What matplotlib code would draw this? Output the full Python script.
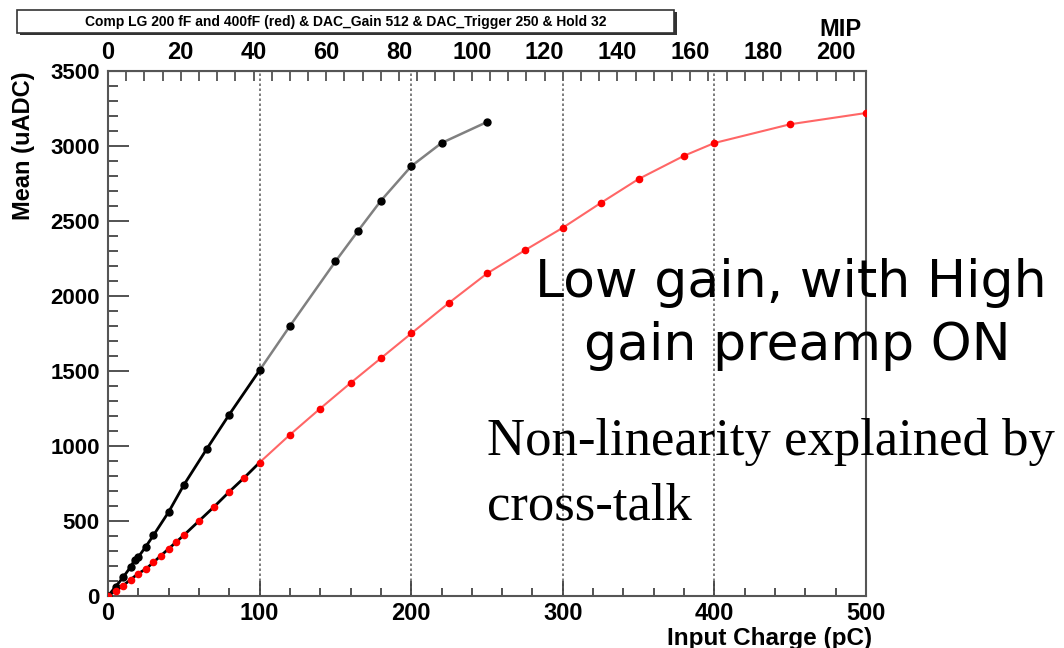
import numpy as np
import matplotlib
matplotlib.use("Agg")
import matplotlib.pyplot as plt
from matplotlib.patches import Rectangle
from matplotlib.ticker import MultipleLocator
from matplotlib.font_manager import FontProperties

# black: 200 fF, red: 400 fF
black_q = [0, 5, 10, 15, 17.5, 20, 25, 30, 40, 50, 65, 80, 100, 120, 150, 165, 180, 200, 220, 250]
black_v = [0, 62, 125, 195, 240, 260, 330, 405, 560, 740, 978, 1210, 1505, 1800, 2230, 2435, 2635, 2865, 3020, 3160]

red_q = [0, 5, 10, 15, 20, 25, 30, 35, 40, 45, 50, 60, 70, 80, 90, 100, 120, 140, 160, 180,
         200, 225, 250, 275, 300, 325, 350, 380, 400, 450, 500]
red_v = [0, 35, 70, 110, 150, 180, 225, 270, 315, 360, 405, 500, 595, 695, 790, 890, 1075, 1250, 1420, 1585,
         1750, 1955, 2150, 2305, 2455, 2620, 2780, 2935, 3020, 3145, 3220]

pc_per_mip = 2.4
mip_ticks = list(range(0, 201, 20))

title = "Comp LG 200 fF and 400fF (red) & DAC_Gain 512 & DAC_Trigger 250 & Hold 32"

W, H = 1064, 648
fig = plt.figure(figsize=(W / 100, H / 100), dpi=100)
ax = fig.add_axes([108 / W, 1 - 596 / H, (866 - 108) / W, (596 - 71) / H])

bq, bv = np.array(black_q), np.array(black_v)
rq, rv = np.array(red_q), np.array(red_v)

# low range drawn with black line, high range with lighter line
ax.plot(bq[bq <= 100], bv[bq <= 100], color="black", lw=2, zorder=3)
ax.plot(bq[bq >= 100], bv[bq >= 100], color="#808080", lw=1.8, zorder=3)
ax.plot(rq[rq <= 100], rv[rq <= 100], color="black", lw=2, zorder=3)
ax.plot(rq[rq >= 100], rv[rq >= 100], color="#ff6666", lw=1.5, zorder=3)
ax.plot(bq, bv, "o", color="black", ms=5, zorder=4)
ax.plot(rq, rv, "o", color="red", ms=4.5, zorder=4)

ax.set_xlim(0, 500)
ax.set_ylim(0, 3500)
for x in [100, 200, 300, 400, 500]:
    ax.axvline(x, color="#666666", ls=(0, (1.5, 1.5)), lw=1.2, zorder=1)

lab = dict(family="Liberation Sans", weight="bold")
ax.xaxis.set_major_locator(MultipleLocator(100))
ax.xaxis.set_minor_locator(MultipleLocator(20))
ax.yaxis.set_major_locator(MultipleLocator(500))
ax.yaxis.set_minor_locator(MultipleLocator(100))
ax.tick_params(axis="x", which="major", direction="in", length=11, width=1.3, color="#444444", pad=4, top=False)
ax.tick_params(axis="x", which="minor", direction="in", length=6, width=1.3, color="#444444", top=False)
ax.tick_params(axis="y", which="major", direction="in", length=15, width=1.3, color="#444444", pad=6, right=False)
ax.tick_params(axis="y", which="minor", direction="in", length=7, width=1.3, color="#444444", right=False)
for t in ax.get_xticklabels():
    t.set_fontproperties(FontProperties(size=17, **lab))
for t in ax.get_yticklabels():
    t.set_fontproperties(FontProperties(size=16, **lab))
for s in ax.spines.values():
    s.set_color("#555555")
    s.set_linewidth(1.5)

ax.set_ylabel("Mean (uADC)", fontsize=17, **lab)
ax.yaxis.set_label_coords(-0.111, 1.0)
ax.yaxis.label.set_ha("right")
ax.yaxis.label.set_va("center")
ax.set_xlabel("Input Charge (pC)", fontsize=17.5, **lab)
ax.xaxis.set_label_coords(1.008, -0.08)
ax.xaxis.label.set_ha("right")
ax.xaxis.label.set_va("center")

# MIP scale on top
top = ax.secondary_xaxis("top", functions=(lambda q: q / pc_per_mip, lambda m: m * pc_per_mip))
top.set_xticks(mip_ticks)
top.xaxis.set_minor_locator(MultipleLocator(5))
top.tick_params(which="both", direction="in", length=7, width=1.2, color="#444444", pad=5)
for t in top.get_xticklabels():
    t.set_fontproperties(FontProperties(size=17, **lab))
top.spines["top"].set_color("#555555")
fig.text(840 / W, 1 - 29 / H, "MIP", ha="center", va="center", fontsize=17, **lab)

# title box with shadow
fig.patches.append(Rectangle((20 / W, 1 - 35 / H), 657 / W, 23 / H, transform=fig.transFigure,
                             facecolor="#333333", edgecolor="none", zorder=1))
fig.patches.append(Rectangle((17 / W, 1 - 33 / H), 657 / W, 23 / H, transform=fig.transFigure,
                             facecolor="white", edgecolor="#333333", lw=1.2, zorder=2))
fig.text(346 / W, 1 - 22 / H, title, ha="center", va="center", fontsize=10, zorder=3, **lab)

fig.text(791 / W, 1 - 283 / H, "Low gain, with High", ha="center", va="center",
         fontsize=37.5, family="DejaVu Sans")
fig.text(797 / W, 1 - 346 / H, "gain preamp ON", ha="center", va="center",
         fontsize=37.5, family="DejaVu Sans")
fig.text(487 / W, 1 - 442 / H, "Non-linearity explained by", ha="left", va="center",
         fontsize=38, family="Liberation Serif")
fig.text(487 / W, 1 - 507 / H, "cross-talk", ha="left", va="center",
         fontsize=38, family="Liberation Serif")

fig.savefig("out.png", dpi=100)
